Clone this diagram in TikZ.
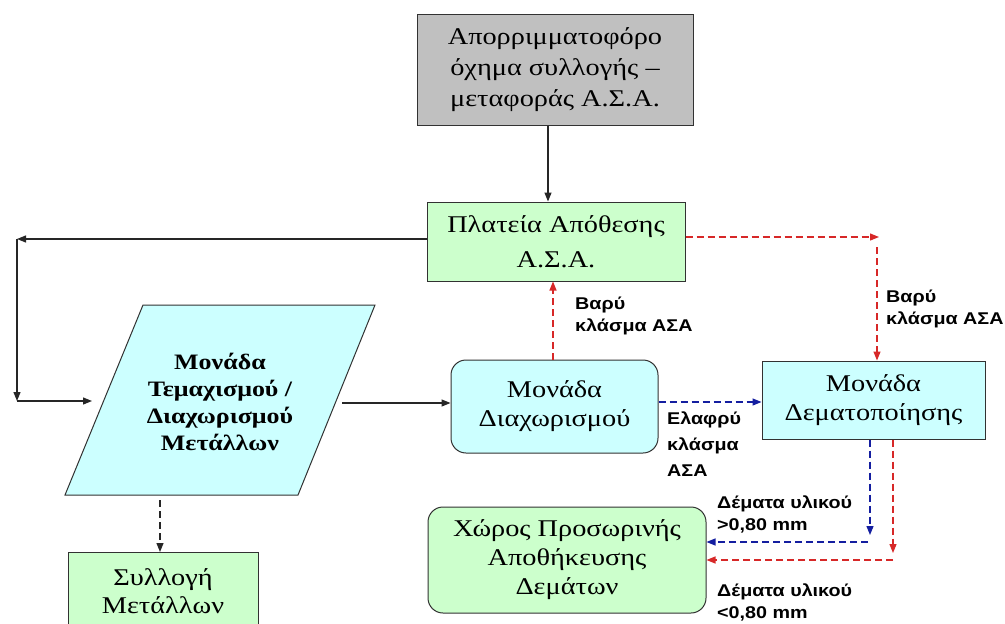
\documentclass[tikz,border=0pt]{standalone}
\usepackage{fontspec}
\setmainfont{Liberation Serif}[FakeStretch=1.18]
\newfontfamily\labfont{Liberation Sans}[FakeStretch=1.16]
\usetikzlibrary{arrows.meta}
\definecolor{grayfill}{RGB}{192,192,192}
\definecolor{greenfill}{RGB}{204,255,204}
\definecolor{cyanfill}{RGB}{204,255,255}
\definecolor{redline}{RGB}{215,40,40}
\definecolor{blueline}{RGB}{20,30,160}
\definecolor{edge}{RGB}{50,50,50}
\tikzset{
  box/.style={draw=edge, line width=1pt, align=center, inner sep=0pt, font=\fontsize{24}{29}\selectfont},
  rbox/.style={box, rounded corners=15pt},
  lab/.style={align=left, anchor=west, inner sep=0pt, font=\labfont\bfseries\fontsize{17}{22}\selectfont},
  tip/.style={-{Triangle[length=9pt,width=7pt]}},
  blk/.style={tip, line width=1.2pt, draw=black!85},
  blkd/.style={blk, dash pattern=on 7pt off 4pt},
  redd/.style={tip, line width=1.2pt, draw=redline, dash pattern=on 7pt off 4pt, color=redline},
  blued/.style={tip, line width=1.2pt, draw=blueline, dash pattern=on 7pt off 4pt, color=blueline},
}
\begin{document}
\begin{tikzpicture}[x=1pt,y=-1pt]
\useasboundingbox (0,0) rectangle (1005,624);
\clip (0,0) rectangle (1005,624);
\fill[white] (0,0) rectangle (1005,624);

% boxes
\node[box, fill=grayfill, minimum width=276, minimum height=111, font=\fontsize{24}{31}\selectfont] (gray) at (555,69.5)
  {Απορριμματοφόρο\\όχημα συλλογής --\\μεταφοράς Α.Σ.Α.};
\node[box, fill=greenfill, minimum width=258, minimum height=79, font=\fontsize{24}{35}\selectfont] (plat) at (556,241.5)
  {Πλατεία Απόθεσης\\Α.Σ.Α.};
\draw[draw=edge, line width=1pt, fill=cyanfill] (143,305) -- (375,305) -- (298,495) -- (65,495) -- cycle;
\node[align=center, inner sep=0pt, font=\bfseries\fontsize{22}{27}\selectfont] (para) at (220,402)
  {Μονάδα\\Τεμαχισμού /\\Διαχωρισμού\\Μετάλλων};
\node[rbox, fill=cyanfill, minimum width=207, minimum height=93] (diax) at (554.5,406.5)
  {Μονάδα\\Διαχωρισμού};
\node[box, fill=cyanfill, minimum width=223, minimum height=78] (demat) at (873.5,400)
  {Μονάδα\\Δεματοποίησης};
\node[rbox, fill=greenfill, minimum width=278, minimum height=106] (xoros) at (567,560)
  {Χώρος Προσωρινής\\Αποθήκευσης\\Δεμάτων};
\draw[draw=edge, line width=1pt, fill=greenfill] (68,552) rectangle (258,640);
\node[align=center, inner sep=0pt, font=\fontsize{24}{28}\selectfont] (syll) at (163,591)
  {Συλλογή\\Μετάλλων};
\coordinate (syllN) at (160,552);

% coordinates
\coordinate (a1) at (548,0);
\coordinate (c1) at (17,239);
\coordinate (c2) at (17,401);
\coordinate (paraW) at (92,401);
\coordinate (paraE) at (342,403);
\coordinate (paraS) at (160,500);
\coordinate (rv) at (553,0);
\coordinate (r1) at (879,237);
\coordinate (r1b) at (877,247);
\coordinate (bh) at (0,402);
\coordinate (b1) at (870,535);
\coordinate (b1b) at (868,542);
\coordinate (r2) at (893,553);
\coordinate (r2b) at (893,560);

% connectors
\draw[blk] (gray.south -| a1) -- (plat.north -| a1);
\draw[blk] (plat.west |- c1) -- (c1);
\draw[blk] (c1) -- (c2);
\draw[blk] (c2) -- (paraW);
\draw[blk] (paraE) -- (diax.west |- paraE);
\draw[blkd] (paraS) -- (syllN);
\draw[redd] (diax.north -| rv) -- (plat.south -| rv);
\draw[redd] (plat.east |- r1) -- (r1);
\draw[redd] (r1b) -- (demat.north -| r1b);
\draw[blued] (diax.east |- bh) -- (demat.west |- bh);
\draw[blued] (demat.south -| b1) -- (b1);
\draw[blued] (b1b) -- (xoros.east |- b1b);
\draw[redd] (demat.south -| r2) -- (r2);
\draw[redd] (r2b) -- (xoros.east |- r2b);

% labels
\node[lab] (l1) at (575,316) {Βαρύ\\κλάσμα ΑΣΑ};
\node[lab] (l2) at (886,308.5) {Βαρύ\\κλάσμα ΑΣΑ};
\node[lab, font=\labfont\bfseries\fontsize{17}{26}\selectfont] (l3) at (667,444) {Ελαφρύ\\κλάσμα\\ΑΣΑ};
\node[lab] (l4) at (717,514) {Δέματα υλικού\\>0,80 mm};
\node[lab] (l5) at (717,602) {Δέματα υλικού\\<0,80 mm};
\end{tikzpicture}
\end{document}
